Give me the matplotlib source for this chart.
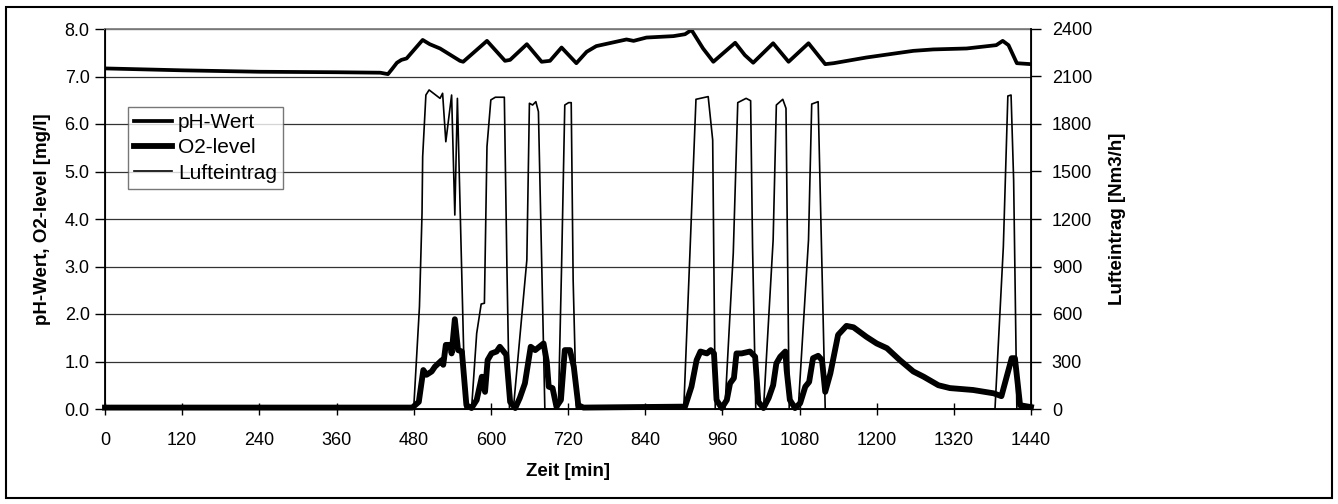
import matplotlib
matplotlib.use("Agg")
import matplotlib.pyplot as plt
from matplotlib.patches import Rectangle
from matplotlib.ticker import FormatStrFormatter, MultipleLocator

plt.rcParams['font.family'] = ['Liberation Sans', 'DejaVu Sans']

# Zeit [min] und pH-Wert
t_ph = [0, 120, 240, 360, 428, 440, 446, 454, 461, 469, 494, 505, 521, 552, 557,
        594, 622, 630, 656, 679, 692, 710, 733, 749, 764, 811, 822, 842, 884, 902,
        912, 930, 946, 980, 995, 1008, 1039, 1063, 1094, 1120, 1133, 1184, 1236,
        1257, 1288, 1340, 1386, 1396, 1405, 1418, 1440]
ph = [7.17, 7.13, 7.10, 7.09, 7.08, 7.05, 7.15, 7.29, 7.35, 7.38, 7.77, 7.68, 7.59,
      7.33, 7.31, 7.75, 7.33, 7.35, 7.68, 7.31, 7.33, 7.61, 7.28, 7.52, 7.64, 7.78,
      7.75, 7.82, 7.85, 7.89, 7.98, 7.59, 7.31, 7.71, 7.45, 7.29, 7.70, 7.31, 7.70,
      7.26, 7.28, 7.40, 7.50, 7.54, 7.57, 7.59, 7.66, 7.75, 7.66, 7.28, 7.26]

# O2-level [mg/l]
t_o2 = [0, 478, 488, 495, 500, 508, 513, 524, 526, 530, 537, 539, 544, 549, 555,
        562, 570, 578, 586, 591, 595, 601, 609, 614, 624, 630, 638, 645, 653, 662,
        669, 682, 687, 690, 696, 702, 709, 715, 723, 729, 736, 744, 902, 912, 920,
        926, 936, 942, 947, 951, 959, 967, 972, 978, 982, 990, 1003, 1011, 1016,
        1024, 1032, 1039, 1044, 1050, 1058, 1060, 1065, 1073, 1081, 1089, 1095,
        1101, 1109, 1115, 1120, 1128, 1140, 1153, 1164, 1184, 1200, 1216, 1236,
        1257, 1273, 1296, 1314, 1350, 1382, 1394, 1410, 1415, 1423, 1440]
o2 = [0.03, 0.03, 0.15, 0.82, 0.72, 0.79, 0.89, 1.03, 0.93, 1.35, 1.35, 1.17, 1.89,
      1.24, 1.21, 0.08, 0.02, 0.19, 0.68, 0.36, 1.03, 1.17, 1.21, 1.31, 1.14, 0.15,
      0.02, 0.23, 0.54, 1.31, 1.24, 1.38, 1.0, 0.47, 0.44, 0.05, 0.19, 1.24, 1.24,
      0.89, 0.08, 0.03, 0.05, 0.47, 1.03, 1.21, 1.17, 1.24, 1.17, 0.19, 0.02, 0.19,
      0.54, 0.65, 1.17, 1.17, 1.21, 1.10, 0.15, 0.02, 0.23, 0.50, 0.96, 1.10, 1.21,
      0.82, 0.19, 0.02, 0.12, 0.47, 0.57, 1.07, 1.12, 1.03, 0.36, 0.75, 1.56, 1.75,
      1.72, 1.52, 1.38, 1.28, 1.03, 0.79, 0.68, 0.50, 0.44, 0.40, 0.33, 0.27, 1.07,
      1.07, 0.08, 0.04]

# Lufteintrag [Nm3/h]
t_luft = [0, 480, 489, 493, 494, 499, 504, 521, 525, 530, 539, 544, 548, 560, 570,
          578, 585, 590, 594, 600, 607, 621, 625, 629, 635, 656, 660, 665, 670, 674,
          684, 705, 710, 715, 721, 725, 728, 733, 900, 910, 919, 938, 945, 949, 964,
          977, 984, 997, 1004, 1007, 1012, 1024, 1039, 1044, 1054, 1059, 1064, 1078,
          1094, 1099, 1109, 1120, 1384, 1397, 1404, 1409, 1413, 1418, 1440]
luft = [0, 0, 646, 1236, 1594, 1983, 2015, 1962, 1994, 1688, 1983, 1225, 1962, 0, 0,
        478, 663, 668, 1657, 1952, 1969, 1969, 899, 0, 0, 941, 1931, 1920, 1941, 1878,
        0, 0, 899, 1920, 1935, 1935, 815, 0, 0, 1025, 1956, 1973, 1699, 0, 0,
        983, 1935, 1962, 1947, 1025, 0, 0, 1067, 1920, 1956, 1899, 0, 0,
        1067, 1926, 1941, 0, 0, 1025, 1977, 1983, 1446, 0, 0]

fig = plt.figure(figsize=(13.38, 5.04), dpi=100)
ax = fig.add_axes([105 / 1338, 1 - 409 / 504, 926 / 1338, 380 / 504])
ax2 = ax.twinx()

l1, = ax.plot(t_ph, ph, color='black', lw=2.7, label='pH-Wert', solid_joinstyle='round')
l2, = ax.plot(t_o2, o2, color='black', lw=4.2, label='O2-level', clip_on=False,
              solid_joinstyle='round')
l3, = ax2.plot(t_luft, luft, color='black', lw=1.2, label='Lufteintrag')

ax.set_xlim(0, 1440)
ax.set_ylim(0, 8)
ax2.set_ylim(0, 2400)
ax.xaxis.set_major_locator(MultipleLocator(120))
ax.yaxis.set_major_locator(MultipleLocator(1))
ax.yaxis.set_major_formatter(FormatStrFormatter('%.1f'))
ax2.yaxis.set_major_locator(MultipleLocator(300))

# Gitterlinien
ax.yaxis.grid(True, color='#333333', lw=0.9)
ax.set_axisbelow(True)

for s in ['left', 'bottom']:
    ax.spines[s].set_color('black')
    ax.spines[s].set_linewidth(1.3)
ax.spines['top'].set_color('#808080')
ax.spines['top'].set_linewidth(1.3)
ax2.spines['right'].set_color('black')
ax2.spines['right'].set_linewidth(1.3)
ax2.spines['top'].set_visible(False)

ax.tick_params(axis='x', direction='inout', length=9, width=1, labelsize=13, pad=12)
ax.tick_params(axis='y', direction='out', length=7, width=1, labelsize=13, pad=4)
ax2.tick_params(axis='y', direction='out', length=7, width=1, labelsize=13, pad=8)

ax.set_xlabel('Zeit [min]', fontsize=13.5, fontweight='bold', labelpad=10)
ax.set_ylabel('pH-Wert, O2-level [mg/l]', fontsize=13.5, fontweight='bold', labelpad=10)
ax2.set_ylabel('Lufteintrag [Nm3/h]', fontsize=13.5, fontweight='bold', labelpad=12)

leg = ax2.legend(handles=[l1, l2, l3], loc='upper left', bbox_to_anchor=(0.025, 0.795),
                 borderaxespad=0, fontsize=15, frameon=True, fancybox=False,
                 handlelength=1.8, handletextpad=0.3, borderpad=0.3, labelspacing=0.3)
leg.get_frame().set_edgecolor('#555555')
leg.get_frame().set_linewidth(1.0)

# Rahmen um die ganze Grafik
fig.add_artist(Rectangle((6 / 1338, 1 - 498 / 504), 1326 / 1338, 491 / 504,
                         transform=fig.transFigure, fill=False, edgecolor='black', lw=1.5))

fig.savefig('out.png', dpi=100)
